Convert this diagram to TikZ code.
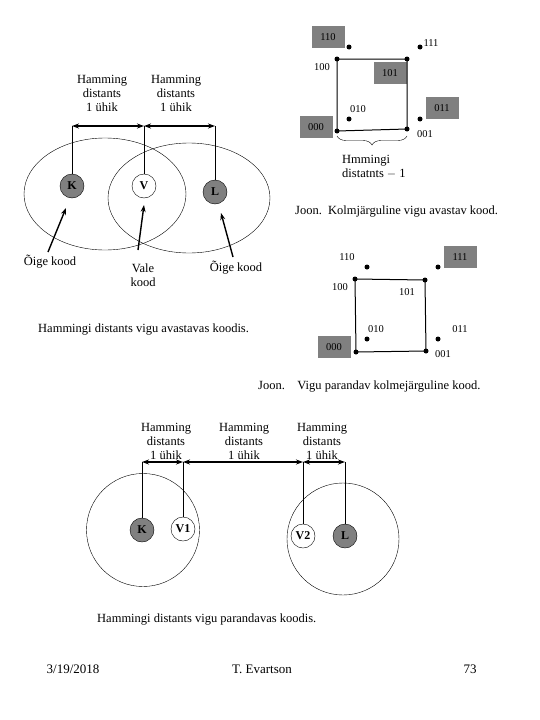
\documentclass[tikz,border=0pt]{standalone}
\usepackage{fontspec}
\setmainfont{Liberation Serif}
\usetikzlibrary{arrows.meta, positioning, decorations.pathreplacing}

\begin{document}
\begin{tikzpicture}[x=1pt, y=-1pt, >={Stealth[length=7pt, width=5pt]},
  lbl/.style={font=\fontsize{12.5}{14}\selectfont, align=center, inner sep=0pt},
  figcap/.style={font=\fontsize{12.5}{14}\selectfont, anchor=west, inner sep=0pt},
  foot/.style={font=\fontsize{13}{15}\selectfont, inner sep=0pt},
  code/.style={draw, circle, minimum size=24pt, inner sep=0pt, font=\bfseries\fontsize{12}{13}\selectfont},
  ok/.style={code, fill=gray},
  bad/.style={code, fill=white},
  dot/.style={circle, fill=black, minimum size=5pt, inner sep=0pt},
  bit/.style={font=\fontsize{10.5}{12}\selectfont, inner sep=0pt},
  tag/.style={bit, fill=gray, minimum width=33pt, minimum height=22pt},
  dist/.style={<->, line width=1.6pt},
  hint/.style={->, line width=1.4pt}]

  \useasboundingbox (0,0) rectangle (540,720);

  % Nodes (detecting code)
  \node[ok]  (K) at (72,186)  {K};
  \node[bad] (V) at (144,186) {V};
  \node[ok]  (L) at (215,192) {L};
  \node[lbl] (hKV) at (102,93) {Hamming\\distants\\1 ühik};
  \node[lbl] (hVL) at (176,93) {Hamming\\distants\\1 ühik};
  \node[lbl] (okK) at (50,262)  {Õige kood};
  \node[lbl] (badV) at (143,275) {Vale\\kood};
  \node[lbl] (okL) at (236,268) {Õige kood};
  \node[figcap] (capA) at (38,330) {Hammingi distants vigu avastavas koodis.};
  \coordinate (aK) at (72,126);
  \coordinate (aV) at (144,126);
  \coordinate (aL) at (215,126);
  \coordinate (tK) at (48,252);
  \coordinate (tV) at (138,250);
  \coordinate (tL) at (233,257);
  \coordinate (pK) at (66,208);
  \coordinate (pV) at (144,205);
  \coordinate (pL) at (221,213);

  % Ellipses
  \draw (105,194) ellipse [x radius=81pt, y radius=56pt];
  \draw (189,198) ellipse [x radius=81pt, y radius=55pt];

  % Edges
  \draw[dist] (aK) -- (aV);
  \draw[dist] (aV) -- (aL);
  \draw (aK) -- (K);
  \draw (aV) -- (V);
  \draw (aL) -- (L);
  \draw[hint] (tK) -- (pK);
  \draw[hint] (tV) -- (pV);
  \draw[hint] (tL) -- (pL);

  % Cube (detecting)
  \node[dot] (a100) at (337,59)  {};
  \node[dot] (a101) at (407,59)  {};
  \node[dot] (a000) at (337,131) {};
  \node[dot] (a001) at (407,129) {};
  \node[dot] (a110) at (349,47)  {};
  \node[dot] (a111) at (420,47)  {};
  \node[dot] (a010) at (349,119) {};
  \node[dot] (a011) at (420,119) {};
  \node[tag] (la110) at (328,37)  {110};
  \node[bit] (la111) at (431,43)  {111};
  \node[bit] (la100) at (322,67)  {100};
  \node[tag] (la101) at (390,73)  {101};
  \node[bit] (la010) at (358,109) {010};
  \node[tag] (la011) at (442,108) {011};
  \node[tag] (la000) at (316,127) {000};
  \node[bit] (la001) at (425,134) {001};
  \draw[line width=1pt] (a100.center) -- (a101.center) -- (a001.center) -- (a000.center) -- cycle;
  \draw[decorate, decoration={brace, mirror, amplitude=9pt}] (337,136) -- (407,136);
  \node[lbl, align=left, anchor=west] (hmm) at (342,167) {Hmmingi\\distatnts $-$ 1};
  \node[figcap] (capB) at (295,212) {Joon.\enspace Kolmjärguline vigu avastav kood.};

  % Cube (correcting)
  \node[dot] (b100) at (355,279) {};
  \node[dot] (b101) at (425,280) {};
  \node[dot] (b000) at (356,352) {};
  \node[dot] (b001) at (426,351) {};
  \node[dot] (b110) at (367,267) {};
  \node[dot] (b111) at (438,267) {};
  \node[dot] (b010) at (367,339) {};
  \node[dot] (b011) at (438,339) {};
  \node[bit] (lb110) at (347,257) {110};
  \node[tag] (lb111) at (460,257) {111};
  \node[bit] (lb100) at (340,287) {100};
  \node[bit] (lb101) at (407,292) {101};
  \node[bit] (lb010) at (376,329) {010};
  \node[bit] (lb011) at (460,329) {011};
  \node[tag] (lb000) at (334,347) {000};
  \node[bit] (lb001) at (443,354) {001};
  \draw[line width=1pt] (b100.center) -- (b101.center) -- (b001.center) -- (b000.center) -- cycle;
  \node[figcap] (capC) at (258,387) {Joon.\quad Vigu parandav kolmejärguline kood.};

  % Nodes (correcting code)
  \node[ok]  (K2) at (142,530) {K};
  \node[bad] (V1) at (183,529) {V1};
  \node[bad] (V2) at (303,536) {V2};
  \node[ok]  (L2) at (345,536) {L};
  \node[lbl] (hKV1) at (166,441) {Hamming\\distants\\1 ühik};
  \node[lbl] (hV1V2) at (244,441) {Hamming\\distants\\1 ühik};
  \node[lbl] (hV2L) at (322,441) {Hamming\\distants\\1 ühik};
  \node[figcap] (capD) at (97,620) {Hammingi distants vigu parandavas koodis.};
  \coordinate (bK) at (142,462);
  \coordinate (bV1) at (183,462);
  \coordinate (bV2) at (303,462);
  \coordinate (bL) at (345,462);
  \draw (143,530) circle [radius=56.5pt];
  \draw (343,539) circle [radius=56pt];
  \draw[dist] (bK) -- (bV1);
  \draw[dist] (bV1) -- (bV2);
  \draw[dist] (bV2) -- (bL);
  \draw (bK) -- (K2);
  \draw (bV1) -- (V1);
  \draw (bV2) -- (V2);
  \draw (bL) -- (L2);

  % Footer
  \node[foot] (date) at (73,669) {3/19/2018};
  \node[foot] (auth) at (262,669) {T. Evartson};
  \node[foot] (page) at (470,669) {73};

\end{tikzpicture}
\end{document}
